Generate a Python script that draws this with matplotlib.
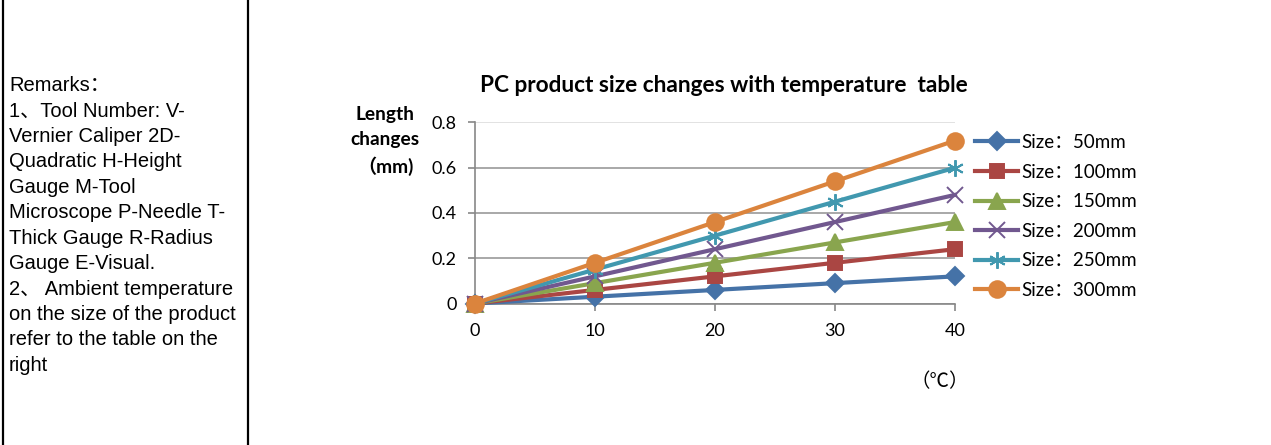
import matplotlib
matplotlib.use("Agg")
import matplotlib.pyplot as plt
from matplotlib.lines import Line2D

temps = [0, 10, 20, 30, 40]
series_names = ["Size：50mm", "Size：100mm", "Size：150mm", "Size：200mm", "Size：250mm", "Size：300mm"]
size_50 = [0, 0.03, 0.06, 0.09, 0.12]
size_100 = [0, 0.06, 0.12, 0.18, 0.24]
size_150 = [0, 0.09, 0.18, 0.27, 0.36]
size_200 = [0, 0.12, 0.24, 0.36, 0.48]
size_250 = [0, 0.15, 0.30, 0.45, 0.60]
size_300 = [0, 0.18, 0.36, 0.54, 0.72]
yticks = [0, 0.2, 0.4, 0.6, 0.8]
ytick_labels = ["0", "0.2", "0.4", "0.6", "0.8"]

remarks = ("Remarks：\n1、Tool Number: V-\nVernier Caliper 2D-\nQuadratic H-Height\nGauge M-Tool\n"
           "Microscope P-Needle T-\nThick Gauge R-Radius\nGauge E-Visual.\n2、 Ambient temperature\n"
           "on the size of the product\nrefer to the table on the\nright")

W, H = 1271, 445
fig = plt.figure(figsize=(W / 100, H / 100), dpi=100)
fig.patch.set_facecolor("white")

CF = ["Lato", "Noto Sans CJK SC", "DejaVu Sans"]
AF = ["Liberation Sans", "Noto Sans CJK SC", "DejaVu Sans"]

# table cell borders
fig.add_artist(Line2D([2.5 / W, 2.5 / W], [0, 1], color="black", lw=1.6))
fig.add_artist(Line2D([247.5 / W, 247.5 / W], [0, 1], color="black", lw=1.6))

fig.text(9 / W, 1 - 76 / H, remarks, family=AF, fontsize=14.5, va="top", ha="left",
         linespacing=1.43, color="black")

ax = fig.add_axes([475 / W, 1 - 303.5 / H, 480 / W, 181 / H])
colors = ["#4572A7", "#AA4643", "#89A54E", "#71588F", "#4198AF", "#DB843D"]
markers = ["D", "s", "^", "x", (6, 2, 0), "o"]
msizes = [9, 10.5, 11, 11, 12, 12]
data = [size_50, size_100, size_150, size_200, size_250, size_300]
for vals, name, c, m, ms in zip(data, series_names, colors, markers, msizes):
    ax.plot(temps, vals, color=c, lw=3.0, marker=m, markersize=ms, markeredgewidth=1.4,
            markerfacecolor=c, markeredgecolor=c, label=name, clip_on=False, zorder=3)

ax.set_xlim(0, 40)
ax.set_ylim(0, 0.8)
ax.set_xticks(temps)
ax.set_yticks(yticks)
ax.set_yticklabels(ytick_labels)
for s in ["top", "right"]:
    ax.spines[s].set_visible(False)
for s in ["left", "bottom"]:
    ax.spines[s].set_color("#888888")
    ax.spines[s].set_linewidth(1.2)
ax.yaxis.grid(True, color="#999999", lw=1.2)
ax.set_axisbelow(True)
ax.get_ygridlines()[-1].set_color("#dddddd")
ax.tick_params(axis="both", colors="#888888", length=5, width=1.2, labelcolor="black",
               labelsize=13)
ax.tick_params(axis="x", pad=9)
ax.tick_params(axis="y", pad=8)
for lab in ax.get_xticklabels() + ax.get_yticklabels():
    lab.set_family(CF)

fig.text(724 / W, 1 - 85 / H, "PC product size changes with temperature  table", family=CF,
         fontsize=16.3, fontweight="bold", ha="center", va="center")
fig.text(385 / W, 1 - 141 / H, "Length\nchanges\n（mm)", family=CF, fontsize=13.8,
         fontweight="bold", ha="center", va="center", linespacing=1.55)
fig.text(940 / W, 1 - 381 / H, "（℃）", family=CF, fontsize=14, ha="center", va="center")

leg = ax.legend(loc="upper left", bbox_to_anchor=(975 / W, 1 - 134 / H), bbox_transform=fig.transFigure,
                frameon=False, prop={"family": CF, "size": 13.5}, handlelength=2.3, handletextpad=0.15,
                labelspacing=0.67, borderaxespad=0, borderpad=0)
plt.savefig("out.png", dpi=100, facecolor="white")
